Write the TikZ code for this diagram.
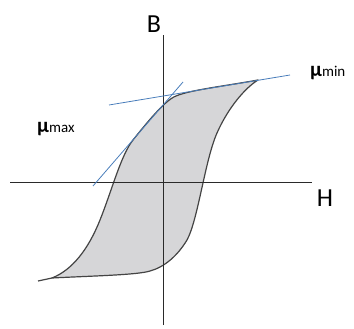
\documentclass[tikz,border=0pt]{standalone}
\usepackage{fontspec}
\setmainfont{Carlito}
\usetikzlibrary{positioning}
\definecolor{loopfill}{HTML}{D6D6D8}
\definecolor{loopline}{HTML}{444444}
\definecolor{tangent}{HTML}{4A7EBB}
\definecolor{axis}{HTML}{2A2A2A}

\begin{document}
\begin{tikzpicture}[x=1pt,y=-1pt,
  ax/.style={draw=axis,line width=1pt},
  loopcurve/.style={draw=loopline,fill=loopfill,line width=1.2pt,line join=round},
  tline/.style={draw=tangent,line width=0.8pt},
  axlabel/.style={font=\fontsize{26}{26}\selectfont,inner sep=0pt},
  mulabel/.style={inner sep=0pt,anchor=base west}]
\useasboundingbox (0,0) rectangle (354,329);
% axes
\coordinate (Bbot) at (163,325);
\coordinate (Btop) at (163,35);
\coordinate (Hleft) at (10,182);
\coordinate (Hright) at (312,182);
% loop tips
\coordinate (tr) at (258,80);
\coordinate (bl) at (52,278);
\coordinate (tail) at (38,281);
% hysteresis loop
\path[loopcurve] (tr) .. controls (225,86) and (190,90) .. (176,96)
  .. controls (165,100) and (145,125) .. (133,140)
  .. controls (121,155) and (112,190) .. (100,220)
  .. controls (88,250) and (72,270) .. (bl)
  .. controls (90,276) and (138,275) .. (150,271)
  .. controls (165,267) and (178,255) .. (187,240)
  .. controls (198,220) and (205,160) .. (217,133)
  .. controls (228,108) and (245,88) .. (tr) -- cycle;
\draw[draw=loopline,line width=1.2pt] (tail) -- (bl);
\draw[ax] (Hleft) -- (Hright);
\draw[ax] (Bbot) -- (Btop);
% tangents
\coordinate (tmin1) at (109,105);
\coordinate (tmin2) at (290,75);
\coordinate (tmax1) at (93,186);
\coordinate (tmax2) at (183,82);
\draw[tline] (tmin1) -- (tmin2);
\draw[tline] (tmax1) -- (tmax2);
% labels
\node[axlabel] (B) at (154,24) {B};
\node[axlabel] (H) at (325,198) {H};
\node[mulabel] (mumin) at (310,77) {{\fontsize{21}{21}\bfseries\selectfont μ}{\fontsize{15}{15}\selectfont min}};
\node[mulabel] (mumax) at (37,132) {{\fontsize{21}{21}\bfseries\selectfont μ}{\fontsize{15}{15}\selectfont max}};
\end{tikzpicture}
\end{document}
